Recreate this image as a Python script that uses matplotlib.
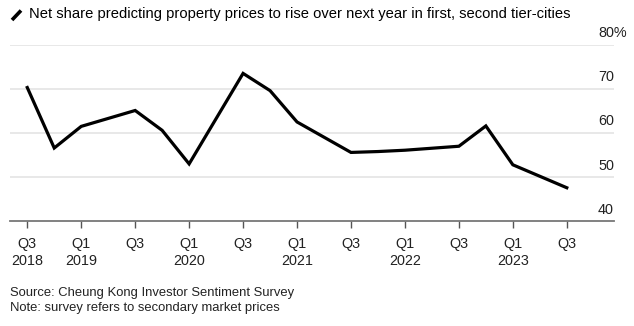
import matplotlib
matplotlib.use('Agg')
import matplotlib.pyplot as plt
from matplotlib.lines import Line2D

plt.rcParams['font.family'] = ['Liberation Sans', 'DejaVu Sans']

# survey rounds (year, quarter) and net share expecting prices to rise (%)
years = [2018, 2018, 2019, 2019, 2019, 2020, 2020, 2020, 2021, 2021, 2021, 2022, 2022, 2022, 2023, 2023]
quarters = [3, 4, 1, 3, 4, 1, 3, 4, 1, 3, 4, 1, 3, 4, 1, 3]
net_share = [70.3, 56.6, 61.5, 65.1, 60.6, 53.0, 73.5, 69.6, 62.5, 55.6, 55.8, 56.1, 57.0, 61.6, 52.8, 47.6]

tick_labels = ['Q3\n2018', 'Q1\n2019', 'Q3', 'Q1\n2020', 'Q3', 'Q1\n2021', 'Q3',
               'Q1\n2022', 'Q3', 'Q1\n2023', 'Q3']
y_ticks = [40, 50, 60, 70, 80]

# quarter index counted from Q3 2018
x = [(y - 2018) * 4 + (q - 3) for y, q in zip(years, quarters)]

fig = plt.figure(figsize=(6.34, 3.26), dpi=100)
W, H = 634, 326
ax = fig.add_axes([10 / W, 1 - 221.3 / H, 604 / W, 176.6 / H])

ax.plot(x, net_share, color='black', lw=2.3, solid_joinstyle='miter', clip_on=False, zorder=3)

ax.set_xlim(-0.64, 21.75)
ax.set_ylim(40, 80)

for v in y_ticks[1:]:
    ax.axhline(v, color='#e2e2e2', lw=1.1, zorder=1)
for v in y_ticks:
    lab = '80%' if v == 80 else str(v)
    ax.annotate(lab, xy=(0.9735, v), xycoords=ax.get_yaxis_transform(),
                xytext=(0, 5.5), textcoords='offset points',
                ha='left', va='baseline', fontsize=10.4, color='#222222')

ax.set_yticks([])
ax.set_xticks(range(0, 21, 2))
ax.set_xticklabels(tick_labels, fontsize=10.4, color='#222222', linespacing=1.3)
ax.tick_params(axis='x', length=5, width=1, color='#555555', pad=6)

for s in ['top', 'right', 'left']:
    ax.spines[s].set_visible(False)
ax.spines['bottom'].set_color('#777777')
ax.spines['bottom'].set_linewidth(1.3)

# title with a small pen stroke as the series key
fig.add_artist(Line2D([12 / W, 21 / W], [1 - 20 / H, 1 - 10.5 / H], color='black', lw=2.6,
                      solid_capstyle='butt'))
fig.text(29 / W, 1 - 14 / H, 'Net share predicting property prices to rise over next year in first, second tier-cities',
         fontsize=10.6, va='center', ha='left', color='black')

fig.text(10 / W, 1 - 293.3 / H, 'Source: Cheung Kong Investor Sentiment Survey',
         fontsize=9.35, va='center', ha='left', color='#222222')
fig.text(10 / W, 1 - 307.5 / H, 'Note: survey refers to secondary market prices',
         fontsize=9.35, va='center', ha='left', color='#222222')

fig.savefig('out.png', dpi=100)
